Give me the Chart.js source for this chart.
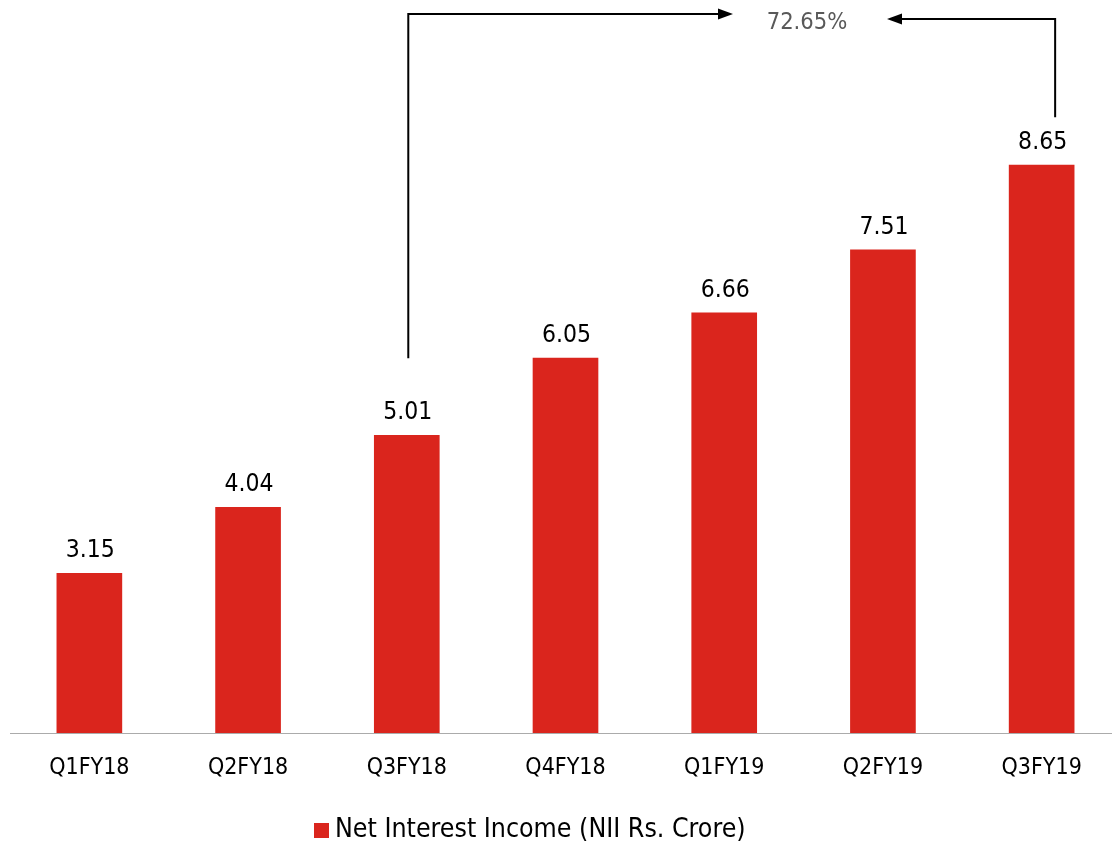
<!DOCTYPE html>
<html>
<head>
<meta charset="utf-8">
<title>Net Interest Income</title>
<script src="https://cdn.jsdelivr.net/npm/chart.js@4/dist/chart.umd.min.js"></script>
<style>
  html, body { margin: 0; padding: 0; background: #ffffff; overflow: hidden; }
  #wrap { position: relative; width: 1122px; height: 847px; }
</style>
</head>
<body>
<div id="wrap"><canvas id="nii"></canvas></div>
<script>
// Quarterly Net Interest Income, Rs. Crore
const quarters = ['Q1FY18', 'Q2FY18', 'Q3FY18', 'Q4FY18', 'Q1FY19', 'Q2FY19', 'Q3FY19'];
const niiValues = [3.15, 4.04, 5.01, 6.05, 6.66, 7.51, 8.65];
const seriesName = 'Net Interest Income (NII Rs. Crore)';
// Growth is measured between these two quarters
const growthFrom = 'Q3FY18';
const growthTo = 'Q3FY19';

const BAR_RED = '#DA251D';
const FONT = "'DejaVu Sans Condensed', 'DejaVu Sans', Verdana, sans-serif";

// Value printed above each bar
const valueLabels = {
  id: 'valueLabels',
  afterDatasetsDraw(chart) {
    const ctx = chart.ctx;
    const meta = chart.getDatasetMeta(0);
    ctx.save();
    ctx.font = '24.5px ' + FONT;
    ctx.fillStyle = '#000000';
    ctx.textAlign = 'center';
    ctx.textBaseline = 'alphabetic';
    meta.data.forEach((bar, i) => {
      ctx.fillText(niiValues[i].toFixed(2), bar.x + 1, bar.y - 16);
    });
    ctx.restore();
  }
};

// Elbow arrows from the two quarters pointing at the growth figure
const growthArrows = {
  id: 'growthArrows',
  afterDatasetsDraw(chart) {
    const ctx = chart.ctx;
    const xs = chart.scales.x;
    const ys = chart.scales.y;
    const iFrom = quarters.indexOf(growthFrom);
    const iTo = quarters.indexOf(growthTo);
    const vFrom = niiValues[iFrom];
    const vTo = niiValues[iTo];
    const growth = (vTo - vFrom) / vFrom * 100;

    const x1 = xs.getPixelForValue(iFrom) + 1.5;
    const x2 = xs.getPixelForValue(iTo) + 13.5;
    const y1Bottom = ys.getPixelForValue(vFrom) - 77;
    const y2Bottom = ys.getPixelForValue(vTo) - 48;
    const yTopL = 14;
    const yTopR = 19;
    const textX = 807;
    const leftTip = 733;
    const rightTip = 887;

    ctx.save();
    ctx.strokeStyle = '#000000';
    ctx.fillStyle = '#000000';
    ctx.lineWidth = 2;
    ctx.lineJoin = 'miter';

    ctx.beginPath();
    ctx.moveTo(x1, y1Bottom);
    ctx.lineTo(x1, yTopL);
    ctx.lineTo(leftTip - 14, yTopL);
    ctx.stroke();
    ctx.beginPath();
    ctx.moveTo(leftTip, yTopL);
    ctx.lineTo(leftTip - 15, yTopL - 5.5);
    ctx.lineTo(leftTip - 15, yTopL + 5.5);
    ctx.closePath();
    ctx.fill();

    ctx.beginPath();
    ctx.moveTo(x2, y2Bottom);
    ctx.lineTo(x2, yTopR);
    ctx.lineTo(rightTip + 14, yTopR);
    ctx.stroke();
    ctx.beginPath();
    ctx.moveTo(rightTip, yTopR);
    ctx.lineTo(rightTip + 15, yTopR - 5.5);
    ctx.lineTo(rightTip + 15, yTopR + 5.5);
    ctx.closePath();
    ctx.fill();

    ctx.font = '23.5px ' + FONT;
    ctx.fillStyle = '#595959';
    ctx.textAlign = 'center';
    ctx.textBaseline = 'alphabetic';
    ctx.fillText(growth.toFixed(2) + '%', textX, 29);
    ctx.restore();
  }
};

// Single-entry legend under the axis
const bottomLegend = {
  id: 'bottomLegend',
  afterDraw(chart) {
    const ctx = chart.ctx;
    const ds = chart.data.datasets[0];
    const boxX = 314, boxY = 823, box = 15;
    ctx.save();
    ctx.fillStyle = ds.backgroundColor;
    ctx.fillRect(boxX, boxY, box, box);
    ctx.font = '26.5px ' + FONT;
    ctx.fillStyle = '#000000';
    ctx.textAlign = 'left';
    ctx.textBaseline = 'alphabetic';
    ctx.fillText(ds.label, boxX + box + 6, 837);
    ctx.restore();
  }
};

new Chart(document.getElementById('nii'), {
  type: 'bar',
  data: {
    labels: quarters,
    datasets: [{
      label: seriesName,
      data: niiValues,
      backgroundColor: BAR_RED,
      borderWidth: 0,
      barThickness: 65
    }]
  },
  options: {
    responsive: true,
    maintainAspectRatio: false,
    animation: false,
    layout: { padding: { left: 10, right: 1, top: 65, bottom: 0 } },
    plugins: {
      legend: { display: false },
      tooltip: { enabled: false }
    },
    scales: {
      x: {
        grid: { display: false },
        border: { display: true, color: '#ABABAB', width: 1 },
        ticks: {
          color: '#000000',
          font: { family: FONT, size: 23 },
          padding: 13,
          maxRotation: 0
        },
        afterFit(scale) { scale.height = 114; }
      },
      y: {
        display: false,
        min: 1,
        max: 10
      }
    }
  },
  plugins: [valueLabels, growthArrows, bottomLegend]
});
</script>
</body>
</html>
